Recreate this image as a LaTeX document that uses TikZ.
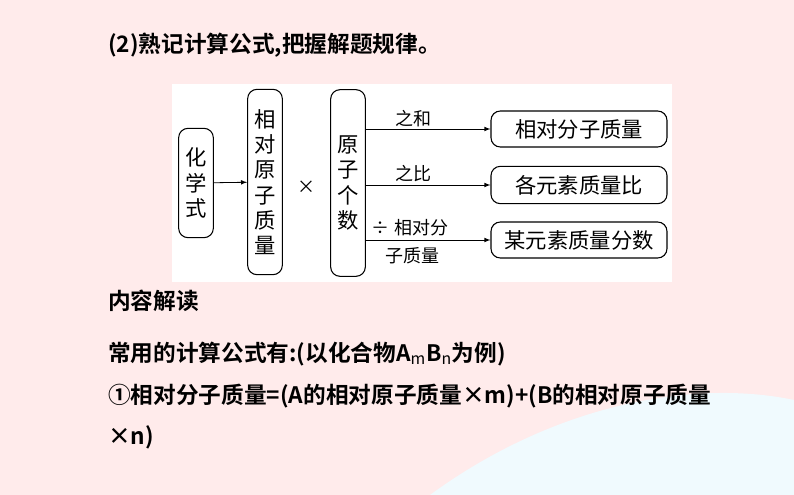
\documentclass[tikz,border=0pt]{standalone}
\usepackage{fontspec}
\setmainfont{Noto Sans CJK SC}
\newfontfamily\cjkb{Noto Sans CJK SC Bold}
\begin{document}
\begin{tikzpicture}[x=0.75pt,y=-0.75pt,
  rb/.style={draw,rounded corners=7pt,line width=0.8pt,font=\fontsize{16}{19}\selectfont,inner sep=0pt},
  vb/.style={rb,text width=17pt,minimum width=26pt,align=center},
  lab/.style={font=\fontsize{13.5}{15}\selectfont,inner sep=0pt},
  arr/.style={-latex,line width=0.6pt},
  txt/.style={anchor=west,inner sep=0pt,font=\cjkb\fontsize{17}{20}\selectfont}]
\fill[red!8!white] (0,0) rectangle (794,495);
\fill[cyan!6!white] (430,495) .. controls (560,400) and (700,380) .. (794,400) -- (794,495) -- cycle;
\useasboundingbox (0,0) rectangle (794,495);
\fill[white] (172,84) rectangle (672,282);
\node[vb,minimum height=82pt] (a) at (196,183) {化\\学\\式};
\node[vb,minimum height=139pt] (b) at (265,182) {相\\对\\原\\子\\质\\量};
\node[lab] (x) at (306,187) {×};
\node[vb,minimum height=140pt] (c) at (348,183) {原\\子\\个\\数};
\node[rb,minimum width=132pt,minimum height=27pt] (r1) at (579,129) {相对分子质量};
\node[rb,minimum width=132pt,minimum height=28pt] (r2) at (579,185) {各元素质量比};
\node[rb,minimum width=132pt,minimum height=27pt] (r3) at (579,240) {某元素质量分数};
\draw[arr] (a) -- (b);
\draw[arr] (c.east |- r1) -- (r1);
\draw[arr] (c.east |- r2) -- (r2);
\draw[arr] (c.east |- r3) -- (r3);
\node[lab] (l1) at (413,119) {之和};
\node[lab] (l2) at (413,174) {之比};
\node[lab] (l3) at (410,228) {÷ 相对分};
\node[lab] (l4) at (412,256) {子质量};
\node[txt] (t0) at (108,45) {(2)熟记计算公式,把握解题规律。};
\node[txt] (t1) at (108,301) {内容解读};
\node[txt] (t2) at (108,354) {常用的计算公式有:(以化合物A$_\mathrm{m}$B$_\mathrm{n}$为例)};
\node[txt] (t3) at (108,396) {①相对分子质量=(A的相对原子质量×m)+(B的相对原子质量};
\node[txt] (t4) at (108,437) {×n)};
\end{tikzpicture}
\end{document}
